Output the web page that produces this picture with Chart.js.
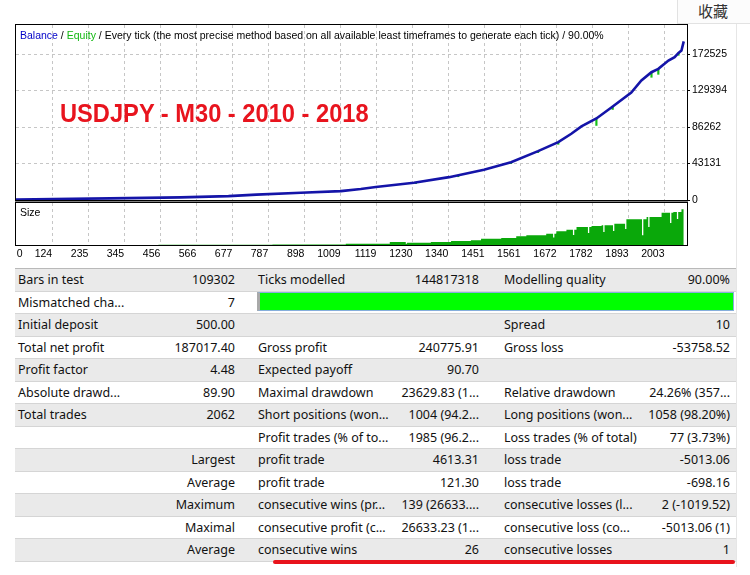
<!DOCTYPE html>
<html lang="en">
<head>
<meta charset="UTF-8">
<title>USDJPY - M30 - 2010 - 2018</title>
<script src="https://cdn.jsdelivr.net/npm/chart.js"></script>
<style>
  body { margin:0; width:750px; height:575px; overflow:hidden; position:relative; background:#fff; font-family:"Liberation Sans", Arial, sans-serif; }
  .abs { position:absolute; }
  canvas { position:absolute; }
  .frame { position:absolute; box-sizing:border-box; border:1px solid #000; pointer-events:none; }
  #fav { left:677px; top:0; width:73px; height:24px; box-sizing:border-box; border-left:1px solid #e2e2e2; border-bottom:1px solid #e2e2e2; background:#fcfcfc; font-family:"Noto Sans CJK SC", sans-serif; font-size:15px; color:#333; text-align:right; padding-right:22px; line-height:22px; }
  #head { left:20px; top:29px; font-size:10.5px; color:#000; white-space:nowrap; }
  #symbol { left:60px; top:100px; font-family:"Liberation Sans", Arial, sans-serif; font-weight:bold; font-size:26px; line-height:1; color:#e8141e; white-space:nowrap; transform:scaleX(0.91); transform-origin:left top; }
  #sizeLbl { left:20px; top:206px; font-size:10.5px; color:#000; }
  #stats { position:absolute; left:15px; top:268px; width:721px; border-top:1px solid #b9b9b9; font-family:"Noto Sans", sans-serif; font-size:12.5px; color:#111; }
  .row { position:relative; height:22.5px; box-sizing:border-box; border-bottom:1px solid #d5d5d5; background:#fff; }
  .row.g { background:#eaeaea; }
  .cell { position:absolute; top:0; line-height:21.5px; white-space:nowrap; }
  .v { text-align:right; width:90px; }
  #quality { left:257px; top:292px; width:477px; height:19px; box-sizing:border-box; border:1px solid #86aedb; border-left:3px solid #a9a9a9; background:#00ff00; }
  #underline { left:273px; top:559.5px; width:462px; height:4.5px; background:#e8131c; border-radius:3px; }
  #edge { left:736px; top:24px; width:1px; height:543px; background:#e6e6e6; }
</style>
</head>
<body>
<div id="fav" class="abs">收藏</div>
<div id="edge" class="abs"></div>

<canvas id="mainChart" width="744" height="195" style="left:6px;top:15px"></canvas>
<canvas id="sizeChart" width="744" height="67" style="left:6px;top:193px"></canvas>

<div class="frame" style="left:15px;top:24px;width:673px;height:177px"></div>
<div class="abs" style="left:15px;top:201px;width:673px;height:1px;background:#808080"></div>
<div class="frame" style="left:15px;top:202px;width:673px;height:44px"></div>

<div id="head" class="abs"><span style="color:#0000c8">Balance</span> / <span style="color:#12b812">Equity</span> / Every tick (the most precise method based on all available least timeframes to generate each tick) / 90.00%</div>
<div id="symbol" class="abs">USDJPY - M30 - 2010 - 2018</div>
<div id="sizeLbl" class="abs">Size</div>

<div id="stats"></div>
<div id="quality" class="abs"></div>
<div id="underline" class="abs"></div>

<script>
// x axis: trade number
const xTickLabels = ["0", "124", "235", "345", "456", "566", "677", "787", "898", "1009",
  "1119", "1230", "1340", "1451", "1561", "1672", "1782", "1893", "2003"];
// y axis: balance
const yTickValues = [0, 43131, 86262, 129394, 172525];

// balance curve
const balanceTrades = [0, 302, 518, 665, 751, 887, 1010, 1071, 1117, 1234, 1342, 1449, 1532,
  1615, 1677, 1717, 1748, 1794, 1840, 1901, 1932, 1963, 1984, 2003, 2015, 2034, 2046, 2055, 2062];
const balanceValues = [500, 1900, 3100, 4600, 6300, 8600, 10500, 12900, 15300, 20400, 27000, 35700, 44700,
  57700, 68300, 78300, 86900, 96300, 109300, 127000, 141200, 151000, 155000, 160900, 164800, 168700, 173800, 176600, 187517];

// equity drops below balance (the green ticks)
const equityDipTrades = [1240, 1370, 1532, 1615, 1677, 1794, 1844, 1963, 1984, 2046];
const equityDipHigh = [20900, 29000, 44700, 57700, 68300, 96300, 110500, 151000, 155000, 173800];
const equityDipLow = [19300, 27500, 43000, 56000, 65800, 88100, 107000, 145000, 148500, 171000];

// lot size per trade
const sizeTrades = [0, 450, 800, 1025, 1160, 1209, 1213, 1286, 1348, 1409, 1440, 1502, 1548, 1579, 1640,
  1661, 1665, 1671, 1702, 1722, 1726, 1733, 1768, 1772, 1779, 1810, 1815, 1819, 1845, 1849, 1882, 1886,
  1934, 1938, 1948, 1953, 1957, 1994, 2020, 2024, 2030, 2041, 2045, 2055, 2062];
const sizeLots = [0.1, 0.3, 0.6, 1.3, 3.0, 1.3, 2.3, 3.0, 4.0, 4.7, 6.3, 7.0, 8.7, 9.7, 11.3,
  7.5, 11.3, 13.7, 15.3, 10.0, 15.3, 18.0, 12.0, 18.0, 19.0, 19.7, 13.0, 19.7, 14.0, 21.3, 16.0, 25.7,
  9.7, 25.7, 28.0, 18.0, 28.0, 32.3, 22.0, 32.3, 33.0, 26.0, 33.0, 35.7, 37.0];

// report rows
const statRows = [
  ["Bars in test", "109302", "Ticks modelled", "144817318", "Modelling quality", "90.00%"],
  ["Mismatched cha...", "7", "", "", "", ""],
  ["Initial deposit", "500.00", "", "", "Spread", "10"],
  ["Total net profit", "187017.40", "Gross profit", "240775.91", "Gross loss", "-53758.52"],
  ["Profit factor", "4.48", "Expected payoff", "90.70", "", ""],
  ["Absolute drawd...", "89.90", "Maximal drawdown", "23629.83 (1...", "Relative drawdown", "24.26% (357..."],
  ["Total trades", "2062", "Short positions (won...", "1004 (94.2...", "Long positions (won...", "1058 (98.20%)"],
  ["", "", "Profit trades (% of to...", "1985 (96.2...", "Loss trades (% of total)", "77 (3.73%)"],
  ["", "Largest", "profit trade", "4613.31", "loss trade", "-5013.06"],
  ["", "Average", "profit trade", "121.30", "loss trade", "-698.16"],
  ["", "Maximum", "consecutive wins (pr...", "139 (26633....", "consecutive losses (l...", "2 (-1019.52)"],
  ["", "Maximal", "consecutive profit (c...", "26633.23 (1...", "consecutive loss (co...", "-5013.06 (1)"],
  ["", "Average", "consecutive wins", "26", "consecutive losses", "1"]
];

const X_MIN = 13, X_MAX = 2072;
const Y_MAX = 206800;
const SIZE_MAX = 42;

const axisFont = { family: '"Liberation Sans", Arial, sans-serif', size: 10.5 };
const gridColor = c => c.index === 0 ? 'rgba(0,0,0,0)' : '#c6c6c6';
const fixWidth = w => s => { s.width = w; };
const fixHeight = h => s => { s.height = h; };
// first label sits just inside the left edge
const setXTicks = s => { s.ticks = xTickLabels.map(l => ({ value: +l === 0 ? X_MIN + 20 : +l })); };

const xScale = (showLabels) => ({
  type: 'linear', min: X_MIN, max: X_MAX, offset: false,
  afterBuildTicks: setXTicks,
  afterFit: fixHeight(showLabels ? 15 : 0),
  ticks: { display: showLabels, autoSkip: false, maxRotation: 0, align: 'end', padding: 3,
    color: '#000', font: axisFont, callback: (v, i) => xTickLabels[i] },
  grid: { color: gridColor, drawTicks: false, offset: false },
  border: { display: false, dash: [3, 3] }
});

new Chart(document.getElementById('mainChart'), {
  type: 'line',
  data: {
    datasets: [
      {
        label: 'Balance',
        data: balanceTrades.map((t, i) => ({ x: t, y: balanceValues[i] })),
        borderColor: '#1414a8', borderWidth: 2.6, pointRadius: 0, tension: 0, order: 1
      },
      {
        type: 'bar', label: 'Equity',
        data: equityDipTrades.map((t, i) => ({ x: t, y: [equityDipLow[i], equityDipHigh[i]] })),
        backgroundColor: '#18c018', barThickness: 1.5, order: 2
      }
    ]
  },
  options: {
    responsive: false, animation: false,
    layout: { padding: { left: 10, top: 10, right: 0, bottom: 10 } },
    plugins: { legend: { display: false }, tooltip: { enabled: false } },
    scales: {
      x: xScale(false),
      y: {
        type: 'linear', position: 'right', min: 0, max: Y_MAX,
        afterBuildTicks: s => { s.ticks = yTickValues.map(v => ({ value: v })); },
        afterFit: fixWidth(63),
        ticks: { color: '#000', font: axisFont, padding: 2, callback: v => String(v) },
        grid: { color: gridColor, tickColor: '#000', tickLength: 3, tickBorderDash: [] },
        border: { display: false, dash: [3, 3] }
      }
    }
  }
});

new Chart(document.getElementById('sizeChart'), {
  type: 'line',
  data: {
    datasets: [{
      label: 'Size',
      data: sizeTrades.map((t, i) => ({ x: t, y: sizeLots[i] })),
      stepped: true, fill: 'origin',
      backgroundColor: '#0aa80a', borderColor: 'rgba(0,0,0,0)', borderWidth: 0, pointRadius: 0
    }]
  },
  options: {
    responsive: false, animation: false,
    layout: { padding: { left: 10, top: 10, right: 0, bottom: 0 } },
    plugins: { legend: { display: false }, tooltip: { enabled: false } },
    scales: {
      x: xScale(true),
      y: {
        position: 'right', min: 0, max: SIZE_MAX,
        afterFit: fixWidth(63),
        ticks: { display: false }, grid: { display: false }, border: { display: false }
      }
    }
  }
});

// report table
const stats = document.getElementById('stats');
const cellPos = [[3, false], [130, true], [243, false], [374, true], [489, false], [625, true]];
statRows.forEach((r, ri) => {
  const row = document.createElement('div');
  row.className = 'row' + (ri % 2 === 0 ? ' g' : '');
  r.forEach((txt, ci) => {
    if (!txt) return;
    const c = document.createElement('div');
    c.className = 'cell' + (cellPos[ci][1] ? ' v' : '');
    c.style.left = cellPos[ci][0] + 'px';
    c.textContent = txt;
    row.appendChild(c);
  });
  stats.appendChild(row);
});
</script>
</body>
</html>
